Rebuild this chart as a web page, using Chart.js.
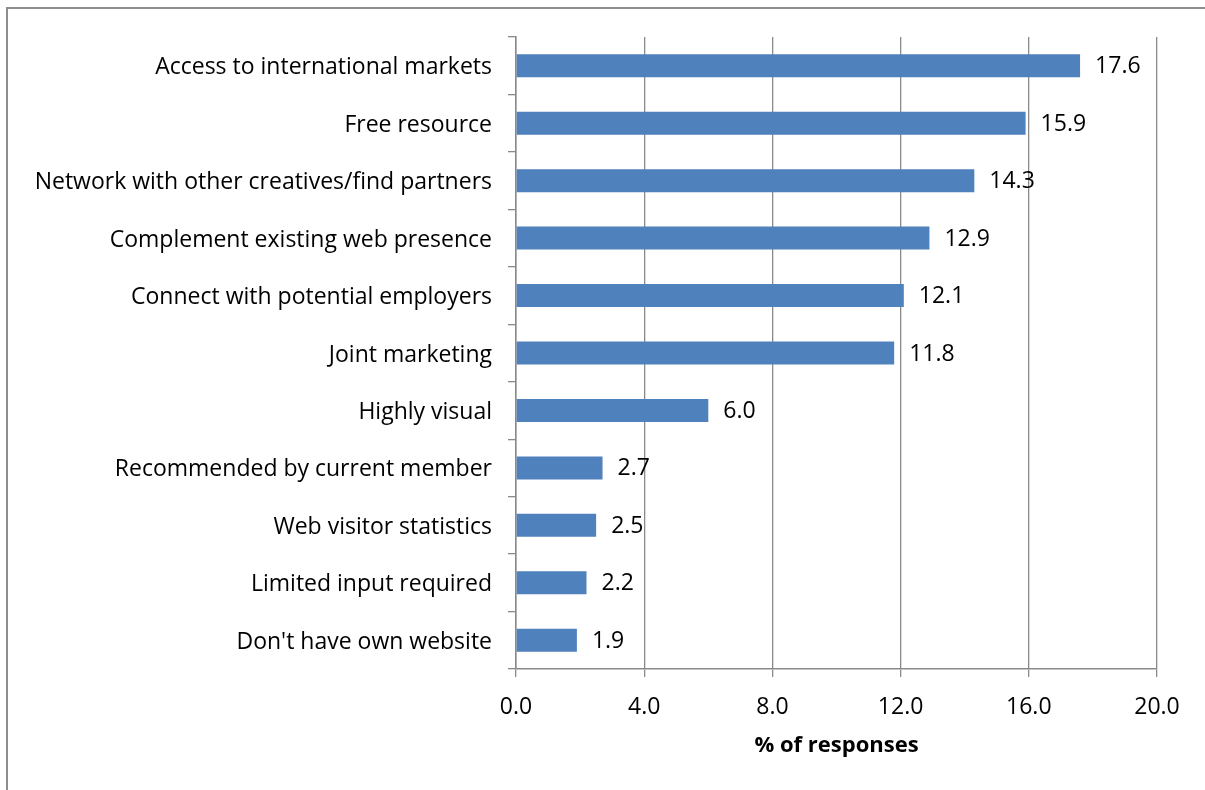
<!DOCTYPE html>
<html>
<head>
<meta charset="utf-8">
<script src="https://cdn.jsdelivr.net/npm/chart.js@4.4.0/dist/chart.umd.min.js"></script>
<style>
  html, body { margin: 0; padding: 0; background: #fff; }
  #wrap { position: relative; width: 1205px; height: 790px; overflow: hidden; }
  #frame { position: absolute; left: 6px; top: 7px; width: 1300px; height: 900px;
           border-left: 2px solid #8e8e8e; border-top: 2px solid #8e8e8e; }
  canvas { position: absolute; left: 0; top: 0; }
</style>
</head>
<body>
<div id="wrap">
  <div id="frame"></div>
  <canvas id="reasonsChart" width="1205" height="790"></canvas>
</div>
<script>
const categories = [
  'Access to international markets',
  'Free resource',
  'Network with other creatives/find partners',
  'Complement existing web presence',
  'Connect with potential employers',
  'Joint marketing',
  'Highly visual',
  'Recommended by current member',
  'Web visitor statistics',
  'Limited input required',
  "Don't have own website"
];
const responses = [17.6, 15.9, 14.3, 12.9, 12.1, 11.8, 6.0, 2.7, 2.5, 2.2, 1.9];
const xTicks = [0, 4, 8, 12, 16, 20];

const FONT = '"Open Sans", sans-serif';

// value labels to the right of each bar
const barLabels = {
  id: 'barLabels',
  afterDatasetsDraw(chart) {
    const ctx = chart.ctx;
    const meta = chart.getDatasetMeta(0);
    ctx.save();
    ctx.font = '23px ' + FONT;
    ctx.fillStyle = '#000';
    ctx.textAlign = 'left';
    ctx.textBaseline = 'middle';
    meta.data.forEach((bar, i) => {
      ctx.fillText(responses[i].toFixed(1), bar.x + 15, bar.y + 1);
    });
    ctx.restore();
  }
};

new Chart(document.getElementById('reasonsChart'), {
  type: 'bar',
  data: {
    labels: categories,
    datasets: [{
      data: responses,
      backgroundColor: '#4f81bd',
      borderWidth: 0,
      barPercentage: 0.8,
      categoryPercentage: 0.5
    }]
  },
  options: {
    indexAxis: 'y',
    responsive: false,
    animation: false,
    layout: { padding: { left: 10, top: 37, right: 48, bottom: 0 } },
    plugins: {
      legend: { display: false },
      tooltip: { enabled: false }
    },
    scales: {
      x: {
        min: 0,
        max: 20,
        afterBuildTicks: s => { s.ticks = xTicks.map(v => ({ value: v })); },
        afterFit: s => { s.height = 121; },
        ticks: {
          color: '#000',
          font: { family: FONT, size: 23 },
          padding: 17,
          callback: v => Number(v).toFixed(1)
        },
        grid: { color: '#8a8a8a', lineWidth: 1.3, tickLength: 8 },
        border: { color: '#8a8a8a', width: 1.5 },
        title: {
          display: true,
          text: '% of responses',
          color: '#000',
          font: { family: FONT, size: 22, weight: 'bold' },
          padding: { top: 0, bottom: 31 }
        }
      },
      y: {
        afterFit: s => { s.width = 506; },
        ticks: {
          color: '#000',
          font: { family: FONT, size: 23 },
          padding: 16,
          labelOffset: 2
        },
        grid: { offset: true, drawOnChartArea: false, color: '#8a8a8a', lineWidth: 1.3, tickLength: 8 },
        border: { color: '#8a8a8a', width: 1.5 }
      }
    }
  },
  plugins: [barLabels]
});
</script>
</body>
</html>
